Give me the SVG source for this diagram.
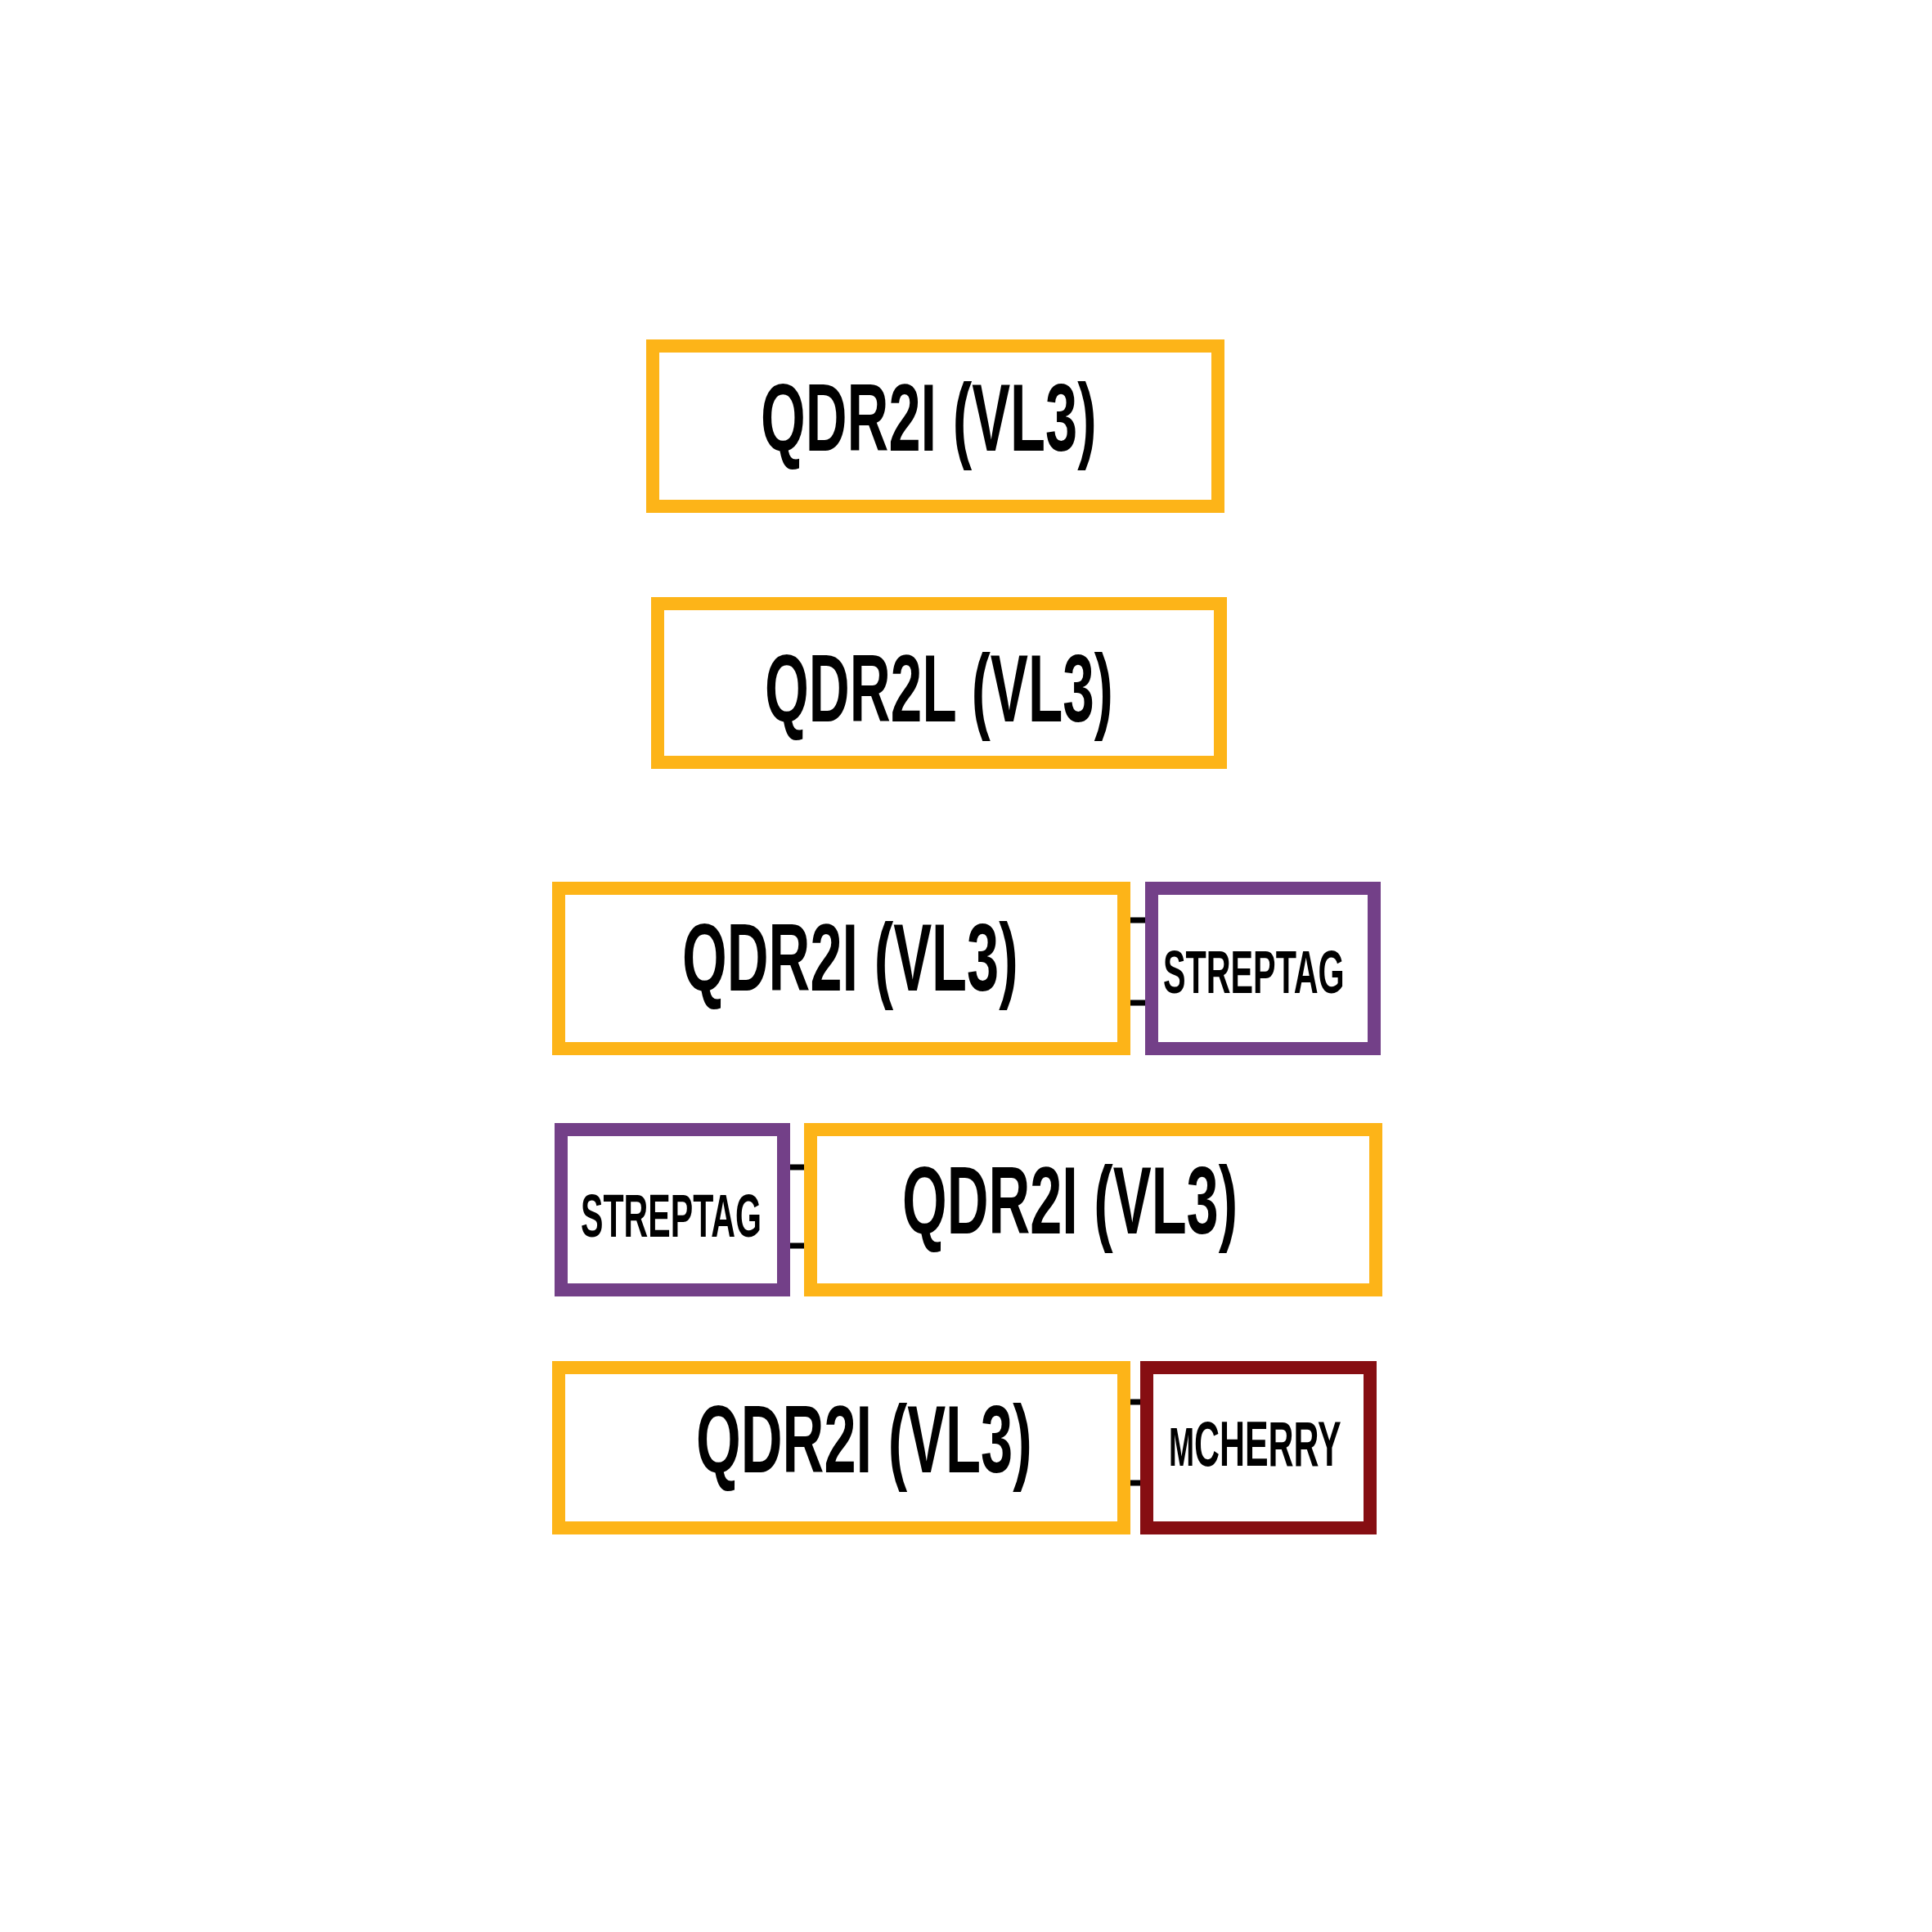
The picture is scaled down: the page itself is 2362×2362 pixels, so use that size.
<svg xmlns="http://www.w3.org/2000/svg" width="2362" height="2362" viewBox="0 0 2362 2362">
<style>
.box{fill:#fff;stroke-width:16}
.orange{stroke:#FDB418}
.purple{stroke:#734088}
.red{stroke:#860E12}
.lbl{font-family:"Liberation Sans",Arial,sans-serif;font-weight:bold;fill:#000}
.big{font-size:116px}
.small{font-size:74px}
.conn{stroke:#000;stroke-width:7;fill:none}
</style>
<rect width="2362" height="2362" fill="#fff"/>
<g id="connectors">
<line class="conn" x1="1380" y1="1125" x2="1402" y2="1125"/>
<line class="conn" x1="1380" y1="1226" x2="1402" y2="1226"/>
<line class="conn" x1="963" y1="1427" x2="986" y2="1427"/>
<line class="conn" x1="963" y1="1523" x2="986" y2="1523"/>
<line class="conn" x1="1380" y1="1714" x2="1397" y2="1714"/>
<line class="conn" x1="1380" y1="1813" x2="1397" y2="1813"/>
</g>
<g id="node1">
<rect class="box orange" x="798" y="423" width="691" height="196"/>
<text class="lbl big" transform="translate(930,551) scale(0.607,1)">QDR2I (VL3)</text>
</g>
<g id="node2">
<rect class="box orange" x="804" y="738" width="688" height="194"/>
<text class="lbl big" transform="translate(935,882) scale(0.597,1)">QDR2L (VL3)</text>
</g>
<g id="node3">
<rect class="box orange" x="683" y="1086" width="691" height="196"/>
<text class="lbl big" transform="translate(834,1211) scale(0.607,1)">QDR2I (VL3)</text>
</g>
<g id="node4">
<rect class="box purple" x="1408" y="1086" width="272" height="196"/>
<text class="lbl small" transform="translate(1422,1214) scale(0.558,1)">STREPTAG</text>
</g>
<g id="node5">
<rect class="box purple" x="686" y="1381" width="272" height="196"/>
<text class="lbl small" transform="translate(710,1512) scale(0.556,1)">STREPTAG</text>
</g>
<g id="node6">
<rect class="box orange" x="991" y="1381" width="691" height="196"/>
<text class="lbl big" transform="translate(1103,1508) scale(0.606,1)">QDR2I (VL3)</text>
</g>
<g id="node7">
<rect class="box orange" x="683" y="1672" width="691" height="196"/>
<text class="lbl big" transform="translate(851,1800) scale(0.607,1)">QDR2I (VL3)</text>
</g>
<g id="node8">
<rect class="box red" x="1402" y="1672" width="273" height="196"/>
<text class="lbl" font-size="77" transform="translate(1429,1792) scale(0.557,1)"><tspan font-size="67">M</tspan>CHERRY</text>
</g>
</svg>
